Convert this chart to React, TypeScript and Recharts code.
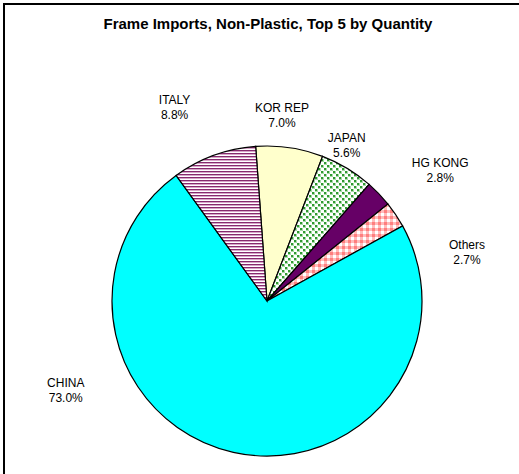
import React from "react";
import { PieChart, Pie, Cell } from "recharts";

const categories = ["KOR REP", "JAPAN", "HG KONG", "Others", "CHINA", "ITALY"];
const shares = [7.0, 5.6, 2.8, 2.7, 73.0, 8.8];
const percentLabels = ["7.0%", "5.6%", "2.8%", "2.7%", "73.0%", "8.8%"];
const fills = ["#ffffcc", "url(#pJapan)", "#660066", "url(#pOthers)", "#00ffff", "url(#pItaly)"];

// label placement: angular nudge (deg, clockwise positive) and radial gap beyond outer radius
const labelNudge = [-3.8, -4, 6.7, 20, 53.6, -5.4];
const labelGap = [32, 20, 62, 51, 65, 60];

const data = categories.map((name, i) => ({ name, value: shares[i], pct: percentLabels[i] }));

const RAD = Math.PI / 180;

const renderLabel = (props: any) => {
  const { cx, cy, midAngle, outerRadius, index } = props;
  const ang = midAngle - labelNudge[index];
  const r = outerRadius + labelGap[index];
  const x = cx + r * Math.cos(ang * RAD);
  const y = cy - r * Math.sin(ang * RAD);
  return (
    <text
      x={x}
      y={y}
      textAnchor="middle"
      fontFamily="Arial, 'Liberation Sans', sans-serif"
      fontSize={12}
      fill="#000"
    >
      <tspan x={x} y={y - 3}>{data[index].name}</tspan>
      <tspan x={x} y={y + 12}>{data[index].pct}</tspan>
    </text>
  );
};

export default function App() {
  return (
    <div style={{ position: "absolute", left: 0, top: 0, width: 519, height: 474, overflow: "hidden", background: "#fff" }}>
      <div
        style={{
          position: "absolute",
          left: 3,
          top: 3,
          width: 540,
          height: 500,
          border: "2px solid #000",
          boxSizing: "border-box",
        }}
      />
      <div
        style={{
          position: "absolute",
          left: 0,
          top: 15,
          width: 536,
          textAlign: "center",
          fontFamily: "Arial, 'Liberation Sans', sans-serif",
          fontWeight: "bold",
          fontSize: 15,
          color: "#000",
        }}
      >
        Frame Imports, Non-Plastic, Top 5 by Quantity
      </div>
      <div style={{ position: "absolute", left: 0, top: 0 }}>
        <PieChart width={519} height={474} margin={{ top: 0, right: 0, bottom: 0, left: 0 }}>
          <defs>
            <pattern id="pItaly" patternUnits="userSpaceOnUse" width={6} height={3}>
              <rect x={0} y={0} width={6} height={3} fill="#ffffff" />
              <rect x={0} y={0} width={6} height={1} fill="#862a6e" />
              <rect x={0} y={1} width={6} height={1} fill="#d7a6c9" />
            </pattern>
            <pattern id="pJapan" patternUnits="userSpaceOnUse" width={6} height={6}>
              <rect x={0} y={0} width={6} height={6} fill="#ffffff" />
              <rect x={0} y={0} width={3} height={3} fill="#a8d8a8" />
              <rect x={3} y={3} width={3} height={3} fill="#a8d8a8" />
              <rect x={0} y={0} width={2} height={2} fill="#2f9a2f" />
              <rect x={3} y={3} width={2} height={2} fill="#2f9a2f" />
            </pattern>
            <pattern id="pOthers" patternUnits="userSpaceOnUse" width={6} height={6}>
              <rect x={0} y={0} width={6} height={6} fill="#ffffff" />
              <rect x={0} y={0} width={3} height={3} fill="#ff7f7f" />
              <rect x={3} y={0} width={3} height={3} fill="#ffbcbc" />
              <rect x={0} y={3} width={3} height={3} fill="#ffbcbc" />
            </pattern>
          </defs>
          <Pie
            data={data}
            dataKey="value"
            nameKey="name"
            cx={267}
            cy={301}
            outerRadius={155}
            startAngle={94.2}
            endAngle={-265.8}
            stroke="#000"
            strokeWidth={1.2}
            label={renderLabel}
            labelLine={false}
            isAnimationActive={false}
          >
            {data.map((d, i) => (
              <Cell key={d.name} fill={fills[i]} />
            ))}
          </Pie>
        </PieChart>
      </div>
    </div>
  );
}
